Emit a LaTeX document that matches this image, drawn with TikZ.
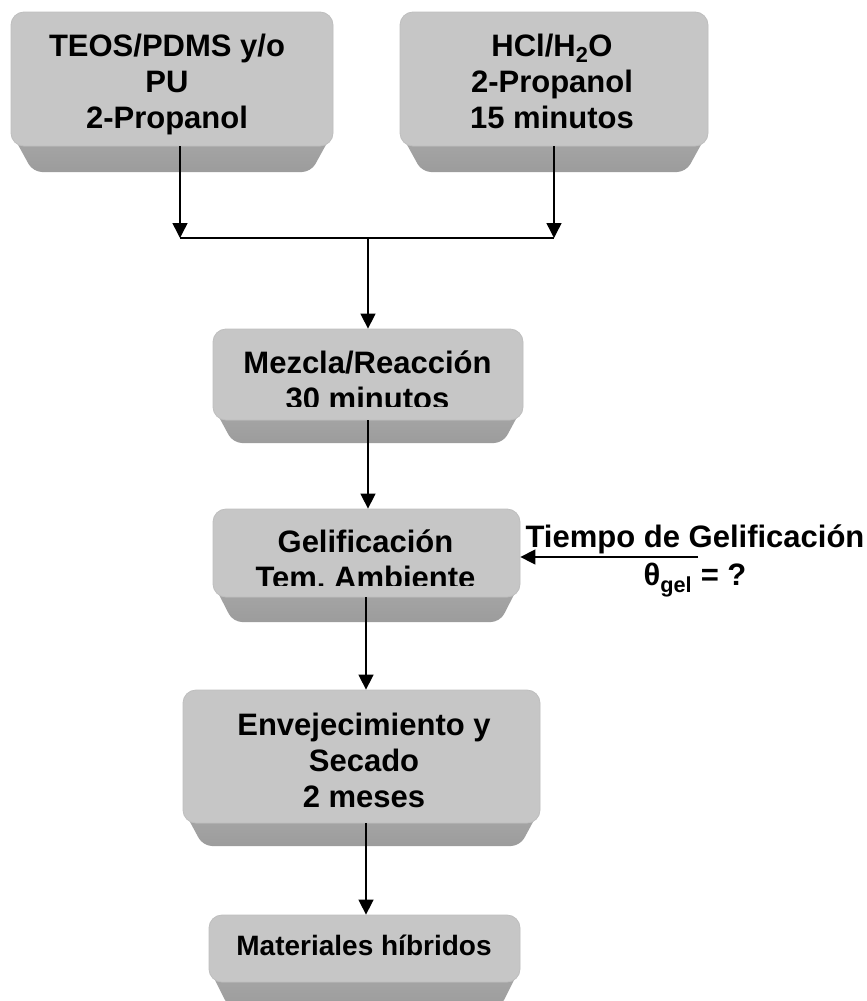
\documentclass[tikz,border=0pt]{standalone}
\usepackage{fontspec}
\setmainfont{Liberation Sans}
\usetikzlibrary{arrows.meta,calc}
\frenchspacing
\definecolor{facegray}{HTML}{C6C6C6}
\definecolor{faceedge}{HTML}{BEBEBE}
\definecolor{beveltop}{HTML}{A8A8A8}
\definecolor{bevelbot}{HTML}{9C9C9C}
\newcommand\bevelbox[7]{%
  \shade[bevel] (#2,{#5-14}) -- ({#2+#7},#6) -- ({#3-#7},#6) -- (#3,{#5-14}) -- cycle;
  \node[face, minimum width={(#3-#2)*1pt}, minimum height={(#5-#4)*1pt}] (#1) at ({(#2+#3)/2},{(#4+#5)/2}) {};
}
\begin{document}
\begin{tikzpicture}[x=1pt,y=-1pt,
  face/.style={draw=faceedge, line width=0.8pt, fill=facegray, rounded corners=13pt, inner sep=0pt},
  bevel/.style={top color=beveltop, bottom color=bevelbot, rounded corners=9pt},
  txt/.style={font=\bfseries\fontsize{31}{36}\selectfont, align=center, inner sep=0pt, anchor=base},
  sidetxt/.style={font=\bfseries\fontsize{31}{38}\selectfont, align=center, inner sep=0pt, anchor=base},
  smalltxt/.style={font=\bfseries\fontsize{28}{34}\selectfont, align=center, inner sep=0pt, anchor=base},
  conn/.style={line width=1.5pt, black},
  arr/.style={conn, -{Triangle[length=15pt,width=15pt]}}]
\useasboundingbox (0,0) rectangle (867,1001);
\fill[white] (0,0) rectangle (867,1001);

\bevelbox{b1}{11}{333}{12}{146}{172}{22}
\bevelbox{b2}{400}{708}{12}{146}{172}{22}
\bevelbox{b3}{213}{523}{329}{420}{443}{20}
\bevelbox{b4}{213}{520}{509}{597}{622}{20}
\bevelbox{b5}{183}{540}{690}{823}{846}{20}
\bevelbox{b6}{209}{520}{915}{982}{1008}{20}

% anchor=base is the baseline of the last line
\node[txt] (t1) at (167,128) {TEOS/PDMS y/o\\PU\\2-Propanol};
\node[txt] (t2) at (552,128) {HCl/H\textsubscript{2}O\\2-Propanol\\15 minutos};
\begin{scope}
  \clip (213,329) rectangle (523,406);
  \node[txt] (t3) at (367.5,409) {Mezcla/Reacción\\30 minutos};
\end{scope}
\begin{scope}
  \clip (213,509) rectangle (520,585);
  \node[txt] (t4) at (365.5,588) {Gelificación\\Tem. Ambiente};
\end{scope}
\node[txt] (t5) at (364,807) {Envejecimiento y\\Secado\\2 meses};
\node[smalltxt] (t6) at (364,955) {Materiales híbridos};
\node[sidetxt] (t7) at (695,585) {Tiempo de Gelificación\\θ\textsubscript{gel} = ?};

\coordinate (j1) at (180,238);
\coordinate (j2) at (554,238);
\coordinate (jm) at (368,238);
\coordinate (ts) at (698,557);

\draw[arr] ([xshift=8pt]b1.south) -- (j1);
\draw[arr] (b2.south) -- (j2);
\draw[conn] (j1) -- (j2);
\draw[arr] (jm) -- (b3.north);
\draw[arr] (b3.south) -- (b3.south |- b4.north);
\draw[arr] ([xshift=-0.5pt]b4.south) -- ([xshift=-0.5pt]b4.south |- b5.north);
\draw[arr] ([xshift=4.5pt]b5.south) -- ([xshift=4.5pt]b5.south |- b6.north);
\draw[arr] (ts) -- (ts -| b4.east);
\end{tikzpicture}
\end{document}
